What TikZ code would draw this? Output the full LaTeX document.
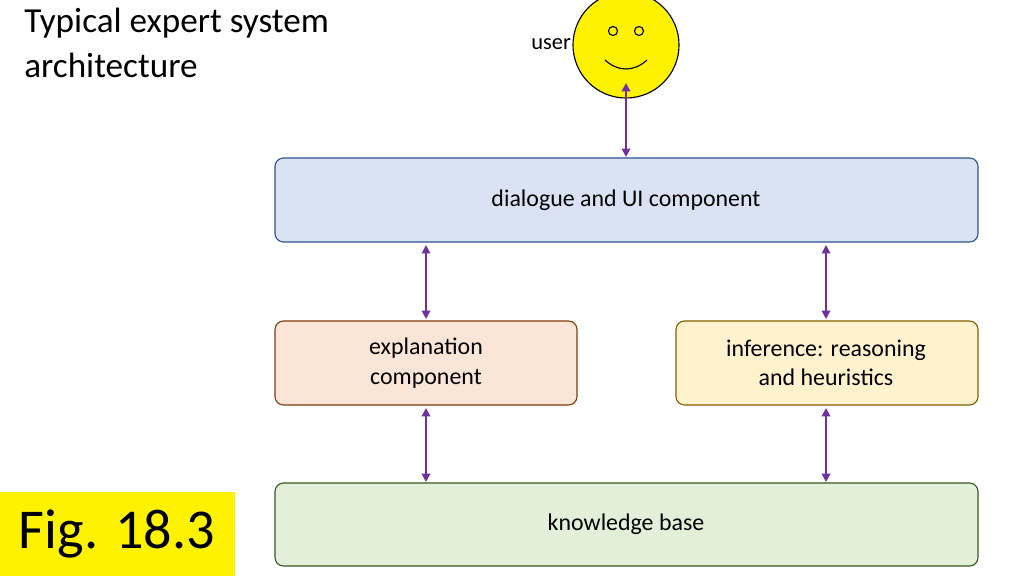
\documentclass[tikz,border=0pt]{standalone}
\usepackage{fontspec}
\setmainfont{Carlito}
\usetikzlibrary{arrows.meta}
\definecolor{uiblue}{HTML}{DAE3F3}
\definecolor{uiborder}{HTML}{2F528F}
\definecolor{exfill}{HTML}{FBE5D6}
\definecolor{exborder}{HTML}{843C0C}
\definecolor{inffill}{HTML}{FFF2CC}
\definecolor{infborder}{HTML}{7F6000}
\definecolor{kbfill}{HTML}{E2F0D9}
\definecolor{kbborder}{HTML}{385723}
\definecolor{arrowpurple}{HTML}{7030A0}
\begin{document}
\begin{tikzpicture}[x=0.025cm, y=-0.025cm]
      \tikzset{
	  block/.style={rectangle, rounded corners=6pt, thick, text centered, font=\fontsize{17}{21}\selectfont, inner sep=0pt},
	  link/.style={{Triangle[width=6pt,length=6pt]}-{Triangle[width=6pt,length=6pt]}, draw=arrowpurple, line width=1.4pt}
      }
      \useasboundingbox (0,0) rectangle (1024,576);

      % title and figure tag
      \node[anchor=north west, align=left, font=\fontsize{25}{32}\selectfont, inner sep=0pt] (title) at (24,8) {Typical expert system\\architecture};
      \fill[yellow] (0,492) rectangle (235,576);
      \node[font=\fontsize{40}{44}\selectfont] (fig) at (117,534) {Fig. 18.3};

      % user
      \node[circle, draw=black, thick, fill=yellow, minimum size=2.65cm] (user) at (626,45) {};
      \draw[thick] (613,31) circle (4.5);
      \draw[thick] (639,31) circle (4.5);
      \draw[thick] (605,60) .. controls (618,72) and (634,72) .. (647,60);
      \node[font=\fontsize{16}{19}\selectfont, anchor=east] (userlabel) at (576,44) {user};

      % blocks
      \draw[block, fill=uiblue, draw=uiborder] (275,158) rectangle (978,242);
      \node[block] (ui) at (626,200) {dialogue and UI component};
      \draw[block, fill=exfill, draw=exborder] (275,321) rectangle (577,405);
      \node[block, align=center] (expl) at (426,363) {explanation\\component};
      \draw[block, fill=inffill, draw=infborder] (676,321) rectangle (978,405);
      \node[block, align=center] (infer) at (826,363) {inference: reasoning\\and heuristics};
      \draw[block, fill=kbfill, draw=kbborder] (275,483) rectangle (978,566);
      \node[block] (kb) at (626,524) {knowledge base};

      % connectors
      \coordinate (u1) at (626,83);   \coordinate (u2) at (626,157);
      \coordinate (a1) at (426,245);  \coordinate (a2) at (426,319);
      \coordinate (b1) at (826,245);  \coordinate (b2) at (826,319);
      \coordinate (c1) at (426,408);  \coordinate (c2) at (426,482);
      \coordinate (d1) at (826,408);  \coordinate (d2) at (826,482);
      \draw[link] (u1) -- (u2);
      \draw[link] (a1) -- (a2);
      \draw[link] (b1) -- (b2);
      \draw[link] (c1) -- (c2);
      \draw[link] (d1) -- (d2);
\end{tikzpicture}
\end{document}
